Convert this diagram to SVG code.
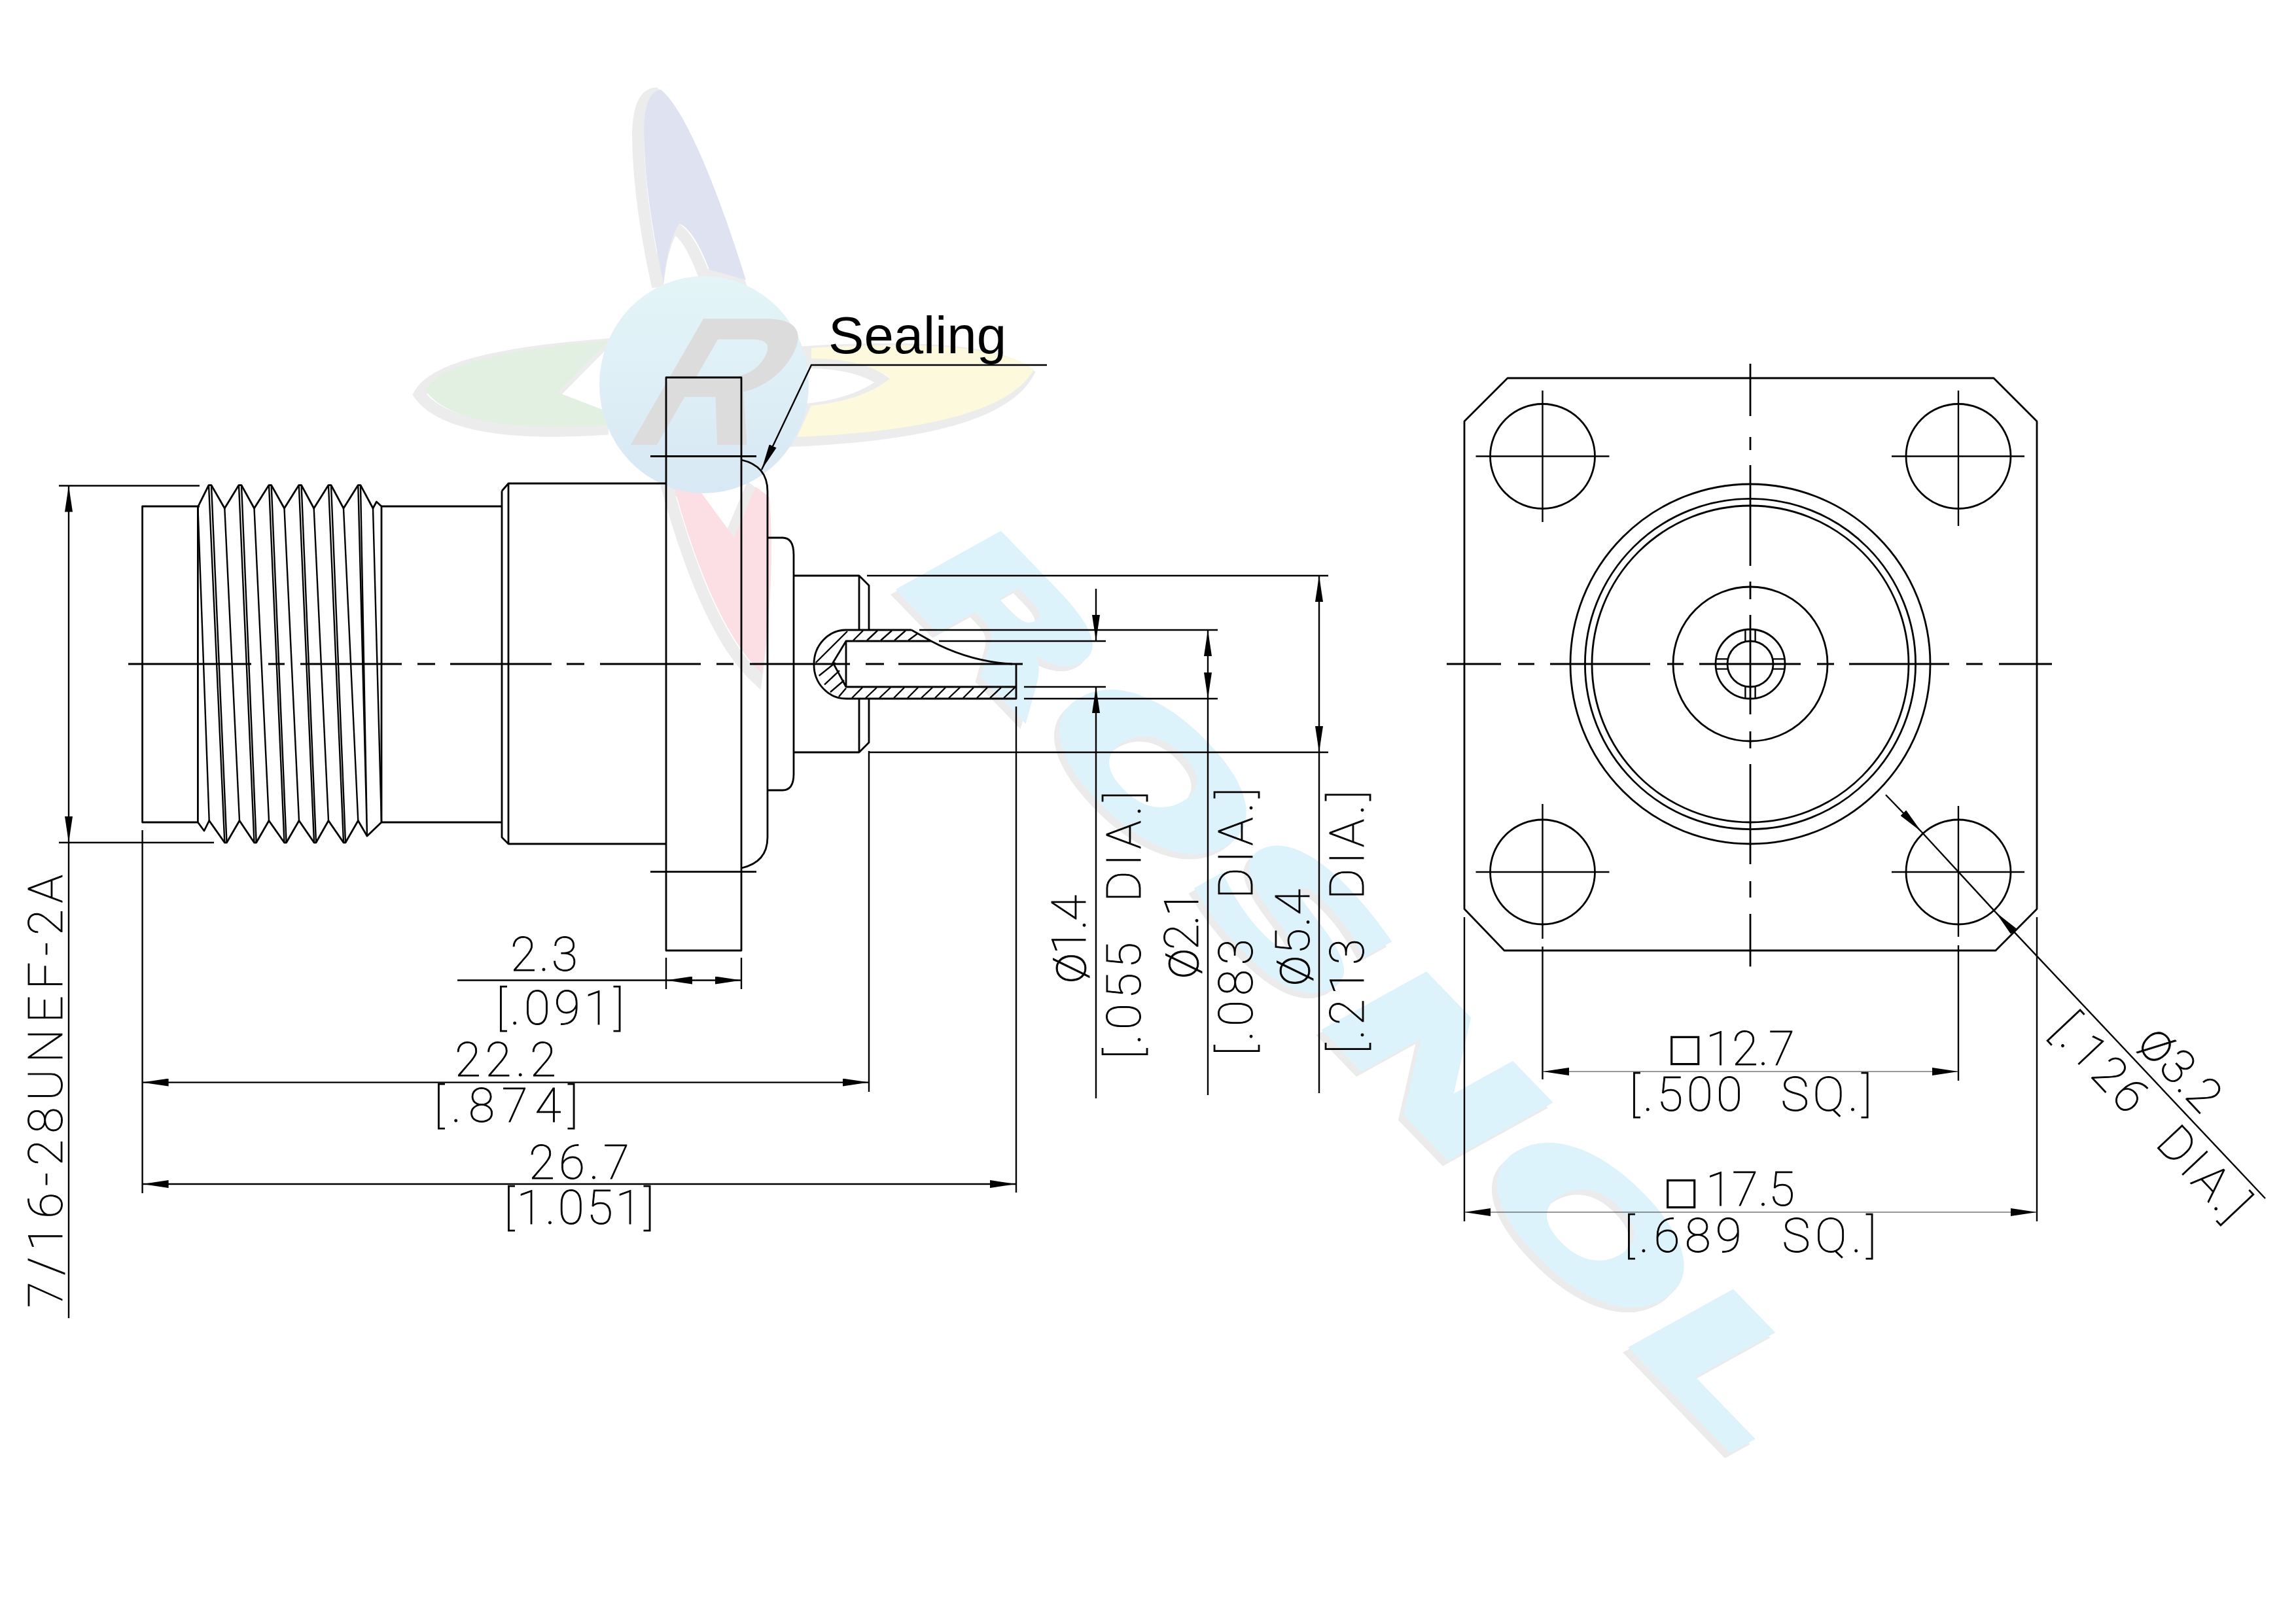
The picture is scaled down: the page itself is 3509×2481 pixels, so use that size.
<svg xmlns="http://www.w3.org/2000/svg" width="3509" height="2481" viewBox="0 0 3509 2481">
<style>
.l{fill:none;stroke:#000;stroke-width:2.8;stroke-linejoin:round}
.h{fill:none;stroke:#000;stroke-width:2.4}
.d{fill:none;stroke:#000;stroke-width:2.4}
.n{fill:none;stroke:#333;stroke-width:1.2}
.t{font-family:Roboto,"DejaVu Sans",sans-serif;font-weight:100;font-size:73px;fill:#000;stroke:#000;stroke-width:.9;word-spacing:30px}
.p{font-size:84px}
.b{font-family:"DejaVu Sans",sans-serif;font-size:58px;fill:#000}
.s{font-family:"Liberation Sans",Arial,sans-serif;font-size:80px;fill:#000}
.w{font-family:"DejaVu Sans",sans-serif;font-weight:700;font-size:230px}
</style>
<defs>
<marker id="a" viewBox="0 0 40 12" refX="40" refY="6" markerWidth="40" markerHeight="12" markerUnits="userSpaceOnUse" orient="auto-start-reverse"><path d="M0,0L40,6L0,12Z" fill="#000"/></marker>
<linearGradient id="g" x1="0" y1="0" x2="0" y2="1"><stop offset="0" stop-color="#e4f5f8"/><stop offset="1" stop-color="#d8e8f4"/></linearGradient>
</defs>
<rect width="3509" height="2481" fill="#fff"/>
<g id="watermark-logo">
<g fill="none" stroke="#ececec" stroke-width="18" transform="translate(-9,6)">
<path d="M1010,137C1050,170 1100,300 1140,428L1084,412Q1060,350 1038,342Q1020,370 1014,432Q985,300 984,200Q985,140 1010,137Z"/>
<path d="M650,597Q680,540 930,521L852,600L930,630V650Q700,665 650,597Z"/>
<path d="M1240,532Q1520,515 1580,565Q1530,655 1218,668L1240,620Q1320,612 1361,578Q1320,548 1240,548Z"/>
<path d="M1030,744H1065L1122,822L1155,744L1176,760Q1185,880 1165,1030Q1090,960 1030,744Z"/>
</g>
<path fill="#dfe2f0" d="M1010,137C1050,170 1100,300 1140,428L1084,412Q1060,350 1038,342Q1020,370 1014,432Q985,300 984,200Q985,140 1010,137Z"/>
<path fill="#e2f0e2" d="M650,597Q680,540 930,521L852,600L930,630V650Q700,665 650,597Z"/>
<path fill="#fdf9dc" d="M1240,532Q1520,515 1580,565Q1530,655 1218,668L1240,620Q1320,612 1361,578Q1320,548 1240,548Z"/>
<path fill="#fbdfe4" d="M1030,744H1065L1122,822L1155,744L1176,760Q1185,880 1165,1030Q1090,960 1030,744Z"/>
<ellipse cx="1076" cy="588" rx="160" ry="166" fill="url(#g)"/>
<text transform="translate(945,680) skewX(-30)" font-family="Liberation Sans,sans-serif" font-weight="700" font-size="280" fill="#dcdcdc">R</text>
</g>
<g id="watermark-name">
<text class="w" transform="translate(1346,886) rotate(46) skewX(-15)" textLength="1866" lengthAdjust="spacingAndGlyphs" fill="#ebebeb" stroke="#ebebeb" stroke-width="10">ROSNOL</text>
<text class="w" transform="translate(1354,878) rotate(46) skewX(-15)" textLength="1866" lengthAdjust="spacingAndGlyphs" fill="#ddf3fb" stroke="#ddf3fb" stroke-width="10">ROSNOL</text>
</g>
<g id="side-view">
<g id="body">
<path class="l" d="M305,774H217.6V1257H302"/>
<path class="l" d="M302.4,775L319,741.6H323L343.3,777L365,741.6H369L388.5,777L411,741.6H414.7L434.5,777L456.8,741.6H460.6L479.7,777L502,741.6H506L525,777L547.3,741.6H551L570,777L575.4,767L583,774V1257L561,1278L547.3,1254.5L528,1288H525L502,1254.5L483,1288H480L457,1254.5L437.6,1288H434.5L411,1254.5L391.7,1288H388.5L366,1254.5L346.5,1288H343.3L319.7,1254.5L312,1270L302.4,1257Z"/>
<path class="h" d="M302.4,775L319.7,1254.5M319,741.6L343.3,1288M323,741.6L346.5,1288M343.3,777L366,1254.5M365,741.6L388.5,1288M369,741.6L391.7,1288M388.5,777L411,1254.5M411,741.6L434.5,1288M414.7,741.6L437.6,1288M434.5,777L457,1254.5M456.8,741.6L480,1288M460.6,741.6L483,1288M479.7,777L502,1254.5M502,741.6L525,1288M506,741.6L528,1288M525,777L547.3,1254.5M547.3,741.6L561,1278M551,741.6L561,1278M570,777L583,1257"/>
<path class="l" d="M583,774H767M583,1257H767M767,750.5V1280L777,1290H1018M767,750.5L777,739H1018M777,739V1290"/>
</g>
<g id="flange">
<rect class="l" x="1018" y="577" width="115" height="876"/>
<path class="l" d="M1133,703Q1173,712 1173,751V1280Q1173,1318 1133,1327"/>
<path class="l" d="M994,697.5H1156M994,1332.6H1156"/>
<path class="l" d="M1173,822H1196Q1213,822 1213,848V1183Q1213,1208 1196,1208H1173"/>
<path class="l" d="M1213,880H1313L1328,895V963M1313,880V963M1213,1150H1313L1328,1135V1068M1313,1150V1068"/>
</g>
<g id="pin">
<path class="l" d="M1393,963H1293A49,52 0 0 0 1244,1015A49,52 0 0 0 1293,1068H1553V1015M1393,963L1423,980C1470,1005 1510,1013 1547,1015M1423,980H1293V1050H1553M1293,980L1273,1013L1293,1050"/>
<path class="h" d="M1304,979L1319,964M1325,979L1341,964M1346,979L1363,964M1367,979L1384,964M1388,979L1403,968M1246.7,1013L1295,965M1251.7,1033L1276.7,1013M1260,1046.7L1283,1025M1269,1058L1290,1040M1282,1065L1293,1052M1302,1067L1318,1051M1323,1067L1340,1051M1344,1067L1361,1051M1366,1067L1382,1051M1387,1067L1403,1051M1408,1067L1425,1051M1429,1067L1445,1051M1450,1067L1467,1051M1472,1067L1488,1051M1493,1067L1509,1051M1513,1067L1530,1051M1534,1067L1551,1051"/>
</g>
<path id="side-centerline" class="l" d="M196,1015H384M410,1015H435M459,1015H614M638,1015H665M688,1015H843M866,1015H893M917,1015H1071M1095,1015H1121M1146,1015H1299M1323,1015H1351M1373,1015H1563"/>
</g>
<g id="front-view">
<path class="l" d="M2304,578H3047L3113,644V1389.5L3050,1453H2299L2238,1389.5V644Z"/>
<g class="l">
<circle cx="2357.5" cy="697.5" r="80"/><circle cx="2993" cy="697.5" r="80"/><circle cx="2357.5" cy="1333" r="80"/><circle cx="2993" cy="1333" r="80"/>
<circle cx="2675" cy="1015" r="275"/><circle cx="2675" cy="1015" r="252.6"/><circle cx="2675" cy="1015" r="242"/><circle cx="2675" cy="1015" r="118"/><circle cx="2675" cy="1015" r="53"/><circle cx="2675" cy="1015" r="35"/>
</g>
<path class="h" d="M2667.4,962V981M2682.6,962V981M2667.4,1049V1068M2682.6,1049V1068M2622,1007.4H2641M2622,1022.6H2641M2709,1007.4H2728M2709,1022.6H2728"/>
<path class="h" d="M2255.5,697.5H2459.5M2357.5,597V798M2891,697.5H3094M2993,597V804M2255.5,1333H2459.5M2357.5,1229V1435M2891,1333H3094M2993,1232V1432"/>
<path id="front-centerlines" class="l" d="M2675,556V636M2675,668V688M2675,711V865M2675,889V916M2675,940V1092M2675,1118V1144M2675,1168V1321M2675,1347V1372M2675,1397V1477.5M2211,1015H2294M2320,1015H2345M2369,1015H2522M2548,1015H2573M2597,1015H2752M2777,1015H2803M2826,1015H2979M3005,1015H3030M3055,1015H3136"/>
</g>
<g id="connectors">
<g class="d">
<path d="M90,742.5H305M90,1288H327"/>
<path d="M105,742.5V1288" marker-start="url(#a)" marker-end="url(#a)"/>
<path d="M105,1288V2015"/>
<path d="M217.6,1269V1824"/>
<path d="M1018,1464V1512M1133,1464V1512M699,1498.5H1018"/>
<path d="M1018,1498.5H1133" marker-start="url(#a)" marker-end="url(#a)"/>
<path d="M1328,1148V1669M1553,1080V1823"/>
<path d="M217.6,1654.6H1328" marker-start="url(#a)" marker-end="url(#a)"/>
<path d="M217.6,1810H1553" marker-start="url(#a)" marker-end="url(#a)"/>
<path d="M1325,880H2030M1327,1150H2030M1405,963H1861M1435,980H1690M1565,1050H1690M1565,1068H1861"/>
<path d="M1675,900V980" marker-end="url(#a)"/>
<path d="M1675,1679V1050" marker-end="url(#a)"/>
<path d="M1846,963V1068" marker-start="url(#a)" marker-end="url(#a)"/>
<path d="M1846,1068V1674"/>
<path d="M2016,880V1150" marker-start="url(#a)" marker-end="url(#a)"/>
<path d="M2016,1150V1671"/>
<path d="M1600,558H1240L1164,718" marker-end="url(#a)"/>
<path d="M2238,1402V1867M3113,1402V1867M2357.5,1447V1650M2993,1445V1652"/>
<path d="M2882,1215L2936.6,1271.5" marker-end="url(#a)"/>
<path d="M3462,1832L3050,1394.6" marker-end="url(#a)"/>
<path d="M2936.6,1271.5L3050,1394.6"/>
</g>
<path class="n" d="M2358,1638H2993" marker-start="url(#a)" marker-end="url(#a)"/>
<path class="n" d="M2238,1853H3113" marker-start="url(#a)" marker-end="url(#a)"/>
</g>
<g id="labels">
<text class="s" x="1266" y="540" textLength="272" lengthAdjust="spacingAndGlyphs">Sealing</text>
<text class="t" x="780" y="1484" textLength="103">2.3</text>
<text class="t" x="758" y="1566" textLength="196">[.091]</text>
<text class="t" x="695" y="1645" textLength="155">22.2</text>
<text class="t" x="663" y="1715" textLength="221">[.874]</text>
<text class="t" x="808" y="1802" textLength="154">26.7</text>
<text class="t" x="770" y="1871" textLength="230">[1.051]</text>
<text class="t" transform="translate(95,1999) rotate(-90)" textLength="662">7/16-28UNEF-2A</text>
<text class="t" transform="translate(1659,1503) rotate(-90)" textLength="135"><tspan class="p">ø</tspan>1.4</text>
<text class="t" transform="translate(1743,1619) rotate(-90)" textLength="410">[.055 DIA.]</text>
<text class="t" transform="translate(1830.5,1496) rotate(-90)" textLength="135"><tspan class="p">ø</tspan>2.1</text>
<text class="t" transform="translate(1914,1614) rotate(-90)" textLength="410">[.083 DIA.]</text>
<text class="t" transform="translate(2001,1507) rotate(-90)" textLength="148"><tspan class="p">ø</tspan>5.4</text>
<text class="t" transform="translate(2084,1611) rotate(-90)" textLength="403">[.213 DIA.]</text>
<text class="t" transform="translate(3263.5,1598) rotate(46.8)" textLength="147"><tspan class="p">ø</tspan>3.2</text>
<text class="t" transform="translate(3131.5,1578.6) rotate(46.8)" textLength="401">[.126 DIA.]</text>
<text class="b" x="2548" y="1621">□</text>
<text class="t" x="2607" y="1628" textLength="136">12.7</text>
<text class="t" x="2490" y="1698" textLength="371">[.500 SQ.]</text>
<text class="b" x="2542" y="1840">□</text>
<text class="t" x="2607" y="1843" textLength="136">17.5</text>
<text class="t" x="2482" y="1914" textLength="386">[.689 SQ.]</text>
</g>
</svg>
